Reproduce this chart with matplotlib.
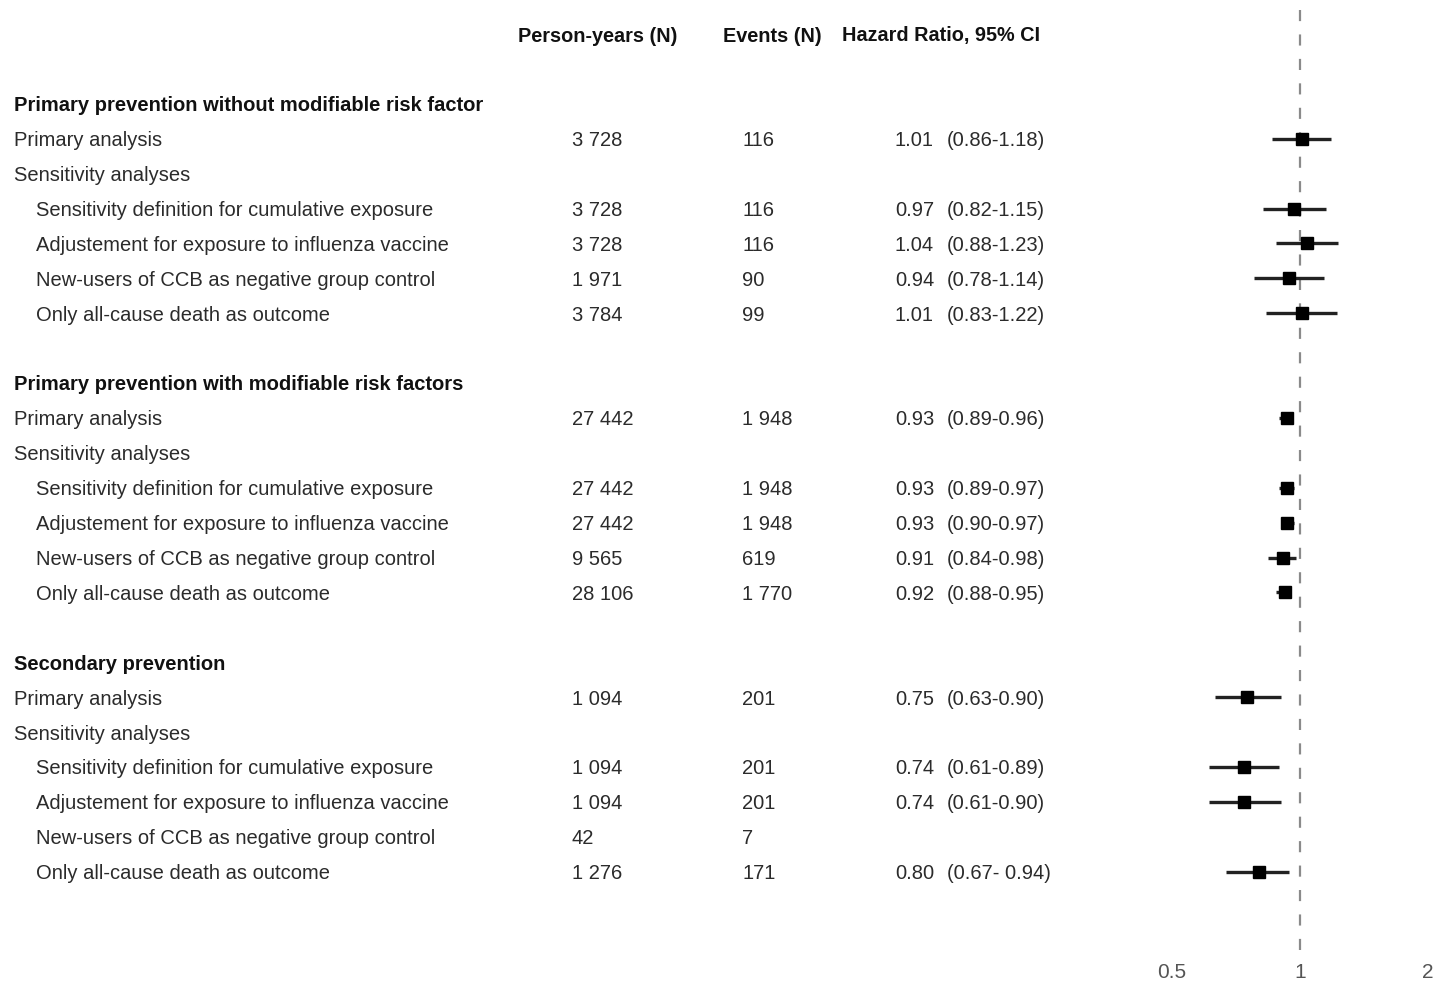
import matplotlib
matplotlib.use("Agg")
import matplotlib.pyplot as plt
import numpy as np

plt.rcParams['font.family'] = ['Liberation Sans', 'DejaVu Sans']

# ---- data ----
headers = ["Person-years (N)", "Events (N)", "Hazard Ratio, 95% CI"]

# row index (0 = header row), label, style: 'section' | 'plain' | 'indent'
row_idx = [2, 3, 4, 5, 6, 7, 8,
           10, 11, 12, 13, 14, 15, 16,
           18, 19, 20, 21, 22, 23, 24]
labels = [
    "Primary prevention without modifiable risk factor",
    "Primary analysis", "Sensitivity analyses",
    "Sensitivity definition for cumulative exposure",
    "Adjustement for exposure to influenza vaccine",
    "New-users of CCB as negative group control",
    "Only all-cause death as outcome",
    "Primary prevention with modifiable risk factors",
    "Primary analysis", "Sensitivity analyses",
    "Sensitivity definition for cumulative exposure",
    "Adjustement for exposure to influenza vaccine",
    "New-users of CCB as negative group control",
    "Only all-cause death as outcome",
    "Secondary prevention",
    "Primary analysis", "Sensitivity analyses",
    "Sensitivity definition for cumulative exposure",
    "Adjustement for exposure to influenza vaccine",
    "New-users of CCB as negative group control",
    "Only all-cause death as outcome",
]
styles = ['section', 'plain', 'plain', 'indent', 'indent', 'indent', 'indent'] * 3

person_years = ["", "3 728", "", "3 728", "3 728", "1 971", "3 784",
                "", "27 442", "", "27 442", "27 442", "9 565", "28 106",
                "", "1 094", "", "1 094", "1 094", "42", "1 276"]
events = ["", "116", "", "116", "116", "90", "99",
          "", "1 948", "", "1 948", "1 948", "619", "1 770",
          "", "201", "", "201", "201", "7", "171"]
hr = [None, 1.01, None, 0.97, 1.04, 0.94, 1.01,
      None, 0.93, None, 0.93, 0.93, 0.91, 0.92,
      None, 0.75, None, 0.74, 0.74, None, 0.80]
ci_low = [None, 0.86, None, 0.82, 0.88, 0.78, 0.83,
          None, 0.89, None, 0.89, 0.90, 0.84, 0.88,
          None, 0.63, None, 0.61, 0.61, None, 0.67]
ci_high = [None, 1.18, None, 1.15, 1.23, 1.14, 1.22,
           None, 0.96, None, 0.97, 0.97, 0.98, 0.95,
           None, 0.90, None, 0.89, 0.90, None, 0.94]
ci_text = ["", "(0.86-1.18)", "", "(0.82-1.15)", "(0.88-1.23)", "(0.78-1.14)", "(0.83-1.22)",
           "", "(0.89-0.96)", "", "(0.89-0.97)", "(0.90-0.97)", "(0.84-0.98)", "(0.88-0.95)",
           "", "(0.63-0.90)", "", "(0.61-0.89)", "(0.61-0.90)", "", "(0.67- 0.94)"]
xticks = [0.5, 1, 2]
xticklabels = ["0.5", "1", "2"]

# ---- layout ----
W, H = 1445, 981
fig = plt.figure(figsize=(W / 100, H / 100), dpi=100)
axt = fig.add_axes([0, 0, 1, 1])
axt.set_xlim(0, W)
axt.set_ylim(H, 0)
axt.axis('off')

row_y0, row_h = 34, 34.9
def ypos(k):
    return row_y0 + row_h * k

txt_col = '#2b2b2b'
fs = 14.5
dy = 2
# headers
for x, h in zip([518, 723, 842], headers):
    axt.text(x, ypos(0) + dy, h, fontsize=14.3, fontweight='bold', color='#111111',
             va='center', ha='left')

for k, lab, st, py, ev, h_, ct in zip(row_idx, labels, styles, person_years,
                                      events, hr, ci_text):
    y = ypos(k) + dy
    if st == 'section':
        axt.text(14, y, lab, fontsize=14.5, fontweight='bold', color='#111111',
                 va='center', ha='left')
    else:
        axt.text(14 if st == 'plain' else 36, y, lab, fontsize=fs, color=txt_col,
                 va='center', ha='left')
    if py:
        axt.text(572, y, py, fontsize=fs, color=txt_col, va='center', ha='left')
    if ev:
        axt.text(742, y, ev, fontsize=fs, color=txt_col, va='center', ha='left')
    if h_ is not None:
        axt.text(895, y, f"{h_:.2f}", fontsize=fs, color=txt_col, va='center', ha='left')
        axt.text(947, y, ct, fontsize=fs, color=txt_col, va='center', ha='left')

# forest axes
ax_left, ax_bottom_px = 1150, 955
axf = fig.add_axes([ax_left / W, (H - ax_bottom_px) / H, (W - ax_left) / W, ax_bottom_px / H])
axf.set_xscale('log')
axf.set_xlim(0.444, 2.19)
axf.set_ylim(ax_bottom_px, 0)
axf.patch.set_alpha(0)
for s in axf.spines.values():
    s.set_visible(False)

axf.plot([1, 1], [10, 950], color='#8a8a8a', lw=1.6, ls=(0, (5, 6)), zorder=1)

for k, h_, lo, hi in zip(row_idx, hr, ci_low, ci_high):
    if h_ is None:
        continue
    y = ypos(k)
    axf.plot([lo, hi], [y, y], color='#222222', lw=2.4, solid_capstyle='butt', zorder=2)
    axf.plot([h_], [y], marker='s', ms=8.5, color='black', zorder=3)

axf.set_yticks([])
axf.xaxis.set_minor_locator(matplotlib.ticker.NullLocator())
axf.set_xticks(xticks)
axf.set_xticklabels(xticklabels)
axf.tick_params(axis='x', length=0, pad=6, labelsize=15, labelcolor='#555555')

fig.savefig('out.png', dpi=100)
